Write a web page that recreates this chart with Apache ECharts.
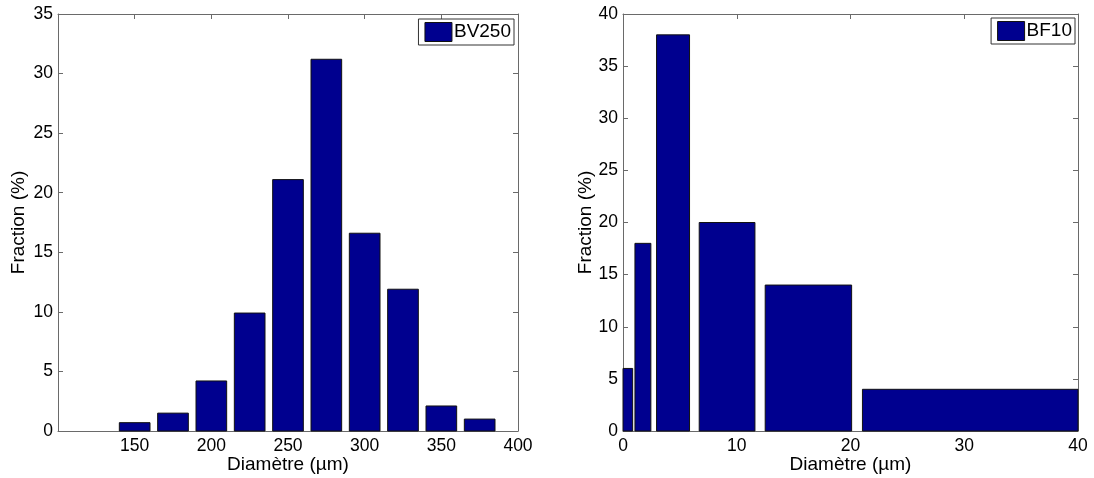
<!DOCTYPE html>
<html>
<head>
<meta charset="utf-8">
<script src="https://cdn.jsdelivr.net/npm/echarts@6/dist/echarts.min.js"></script>
<style>html,body{margin:0;padding:0;background:#fff}#c{width:1094px;height:478px}</style>
</head>
<body>
<div id="c"></div>
<script>
// ---- Data ----
const bvCenters = [150, 175, 200, 225, 250, 275, 300, 325, 350, 375];
const bvValues  = [0.7, 1.5, 4.2, 9.9, 21.1, 31.2, 16.6, 11.9, 2.1, 1.0];
const bvBinWidth = 20;            // bar width in µm (0.8 of the 25 µm spacing)
const bfStart  = [0, 1.05, 2.95, 6.7, 12.5, 21.05];
const bfEnd    = [0.85, 2.45, 5.85, 11.6, 20.1, 40];
const bfValues = [6, 18, 38, 20, 14, 4];
const leftXTicks = { min: 100, max: 400, interval: 50 };
const leftYTicks = { min: 0, max: 35, interval: 5 };
const rightXTicks = { min: 0, max: 40, interval: 10 };
const rightYTicks = { min: 0, max: 40, interval: 5 };

const FILL = '#00008F';
const EDGE = '#111111';
const AXIS = '#6a6a6a';
const FONT = "'Liberation Sans', Arial, sans-serif";

const chart = echarts.init(document.getElementById('c'), null, { renderer: 'canvas' });

function renderRect(params, api) {
  const x0 = api.value(0), x1 = api.value(1), y = api.value(2);
  const p0 = api.coord([x0, y]);
  const p1 = api.coord([x1, 0]);
  return {
    type: 'rect',
    shape: { x: p0[0], y: p0[1], width: p1[0] - p0[0], height: p1[1] - p0[1] },
    style: { fill: FILL, stroke: EDGE, lineWidth: 1 }
  };
}

const bvData = bvCenters.map((c, i) => [c - bvBinWidth / 2, c + bvBinWidth / 2, bvValues[i]]);
const bfData = bfStart.map((s, i) => [s, bfEnd[i], bfValues[i]]);

const tick = { show: true, inside: true, length: 5, lineStyle: { color: AXIS } };
const line = { show: true, onZero: false, lineStyle: { color: AXIS, width: 1 } };
const LABEL_SIZE = 17.5;

function mainX(gi, t) {
  return {
    type: 'value', gridIndex: gi, min: t.min, max: t.max, interval: t.interval,
    position: 'bottom',
    name: 'Diamètre (µm)', nameLocation: 'middle', nameGap: 24, nameMoveOverlap: false,
    nameTextStyle: { fontFamily: FONT, fontSize: 19, color: '#000' },
    axisLine: line, axisTick: tick,
    axisLabel: { fontFamily: FONT, fontSize: LABEL_SIZE, color: '#000', margin: 6,
                 showMinLabel: gi === 1 },
    splitLine: { show: false }
  };
}
function topX(gi, t) {
  return {
    type: 'value', gridIndex: gi, min: t.min, max: t.max, interval: t.interval,
    position: 'top', axisLine: line, axisTick: tick,
    axisLabel: { show: false }, splitLine: { show: false }
  };
}
function mainY(gi, t, gap) {
  return {
    type: 'value', gridIndex: gi, min: t.min, max: t.max, interval: t.interval,
    position: 'left',
    name: 'Fraction (%)', nameLocation: 'middle', nameGap: gap, nameMoveOverlap: false,
    nameTextStyle: { fontFamily: FONT, fontSize: 19, color: '#000' },
    axisLine: line, axisTick: tick,
    axisLabel: { fontFamily: FONT, fontSize: LABEL_SIZE, color: '#000', margin: 5 },
    splitLine: { show: false }
  };
}
function rightY(gi, t) {
  return {
    type: 'value', gridIndex: gi, min: t.min, max: t.max, interval: t.interval,
    position: 'right', axisLine: line, axisTick: tick,
    axisLabel: { show: false }, splitLine: { show: false }
  };
}

const legendCommon = {
  orient: 'vertical', icon: 'rect', itemWidth: 27, itemHeight: 19, itemGap: 0,
  borderColor: '#333', borderWidth: 1, backgroundColor: '#fff',
  padding: [3, 3, 3, 6],
  textStyle: { fontFamily: FONT, fontSize: 19, lineHeight: 19, color: '#000', padding: [0, 0, 0, -3] }
};

chart.setOption({
  animation: false,
  backgroundColor: '#fff',
  grid: [
    { left: 58, top: 14, width: 460, height: 417, containLabel: false, outerBoundsMode: 'none' },
    { left: 623, top: 14, width: 455, height: 417, containLabel: false, outerBoundsMode: 'none' }
  ],
  xAxis: [mainX(0, leftXTicks), mainX(1, rightXTicks), topX(0, leftXTicks), topX(1, rightXTicks)],
  yAxis: [mainY(0, leftYTicks, 30), mainY(1, rightYTicks, 28), rightY(0, leftYTicks), rightY(1, rightYTicks)],
  legend: [
    Object.assign({}, legendCommon, { right: 580, top: 19, data: [{ name: 'BV250', itemStyle: { color: FILL, borderColor: EDGE, borderWidth: 1 } }] }),
    Object.assign({}, legendCommon, { right: 19, top: 18, data: [{ name: 'BF10', itemStyle: { color: FILL, borderColor: EDGE, borderWidth: 1 } }] })
  ],
  series: [
    {
      name: 'BV250', type: 'custom', xAxisIndex: 0, yAxisIndex: 0,
      renderItem: renderRect, data: bvData,
      encode: { x: [0, 1], y: 2 }, itemStyle: { color: FILL }
    },
    {
      name: 'BF10', type: 'custom', xAxisIndex: 1, yAxisIndex: 1,
      renderItem: renderRect, data: bfData,
      encode: { x: [0, 1], y: 2 }, itemStyle: { color: FILL }
    }
  ]
});
</script>
</body>
</html>
